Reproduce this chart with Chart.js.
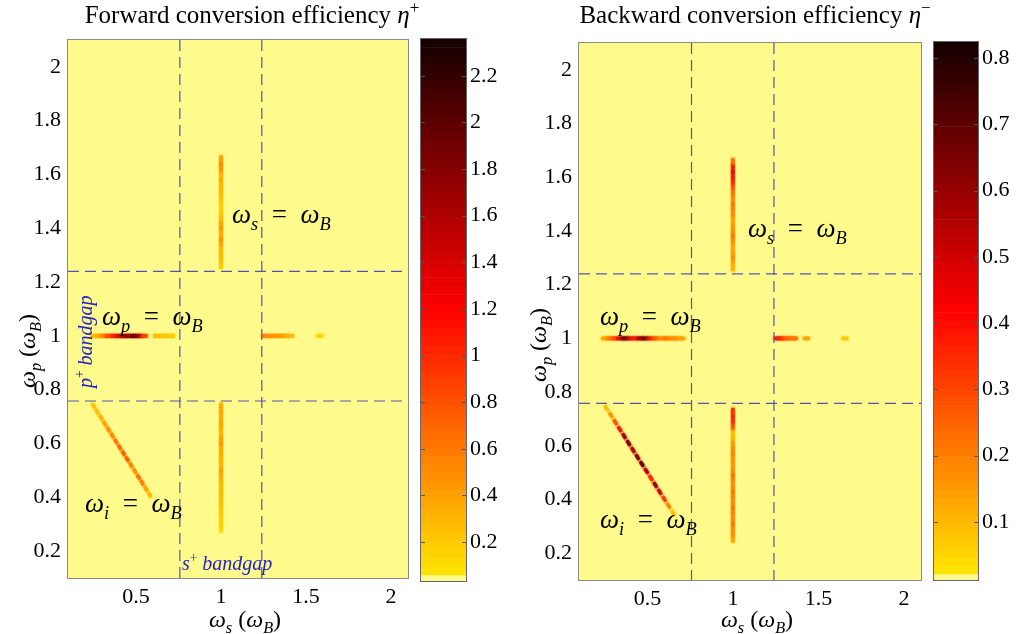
<!DOCTYPE html>
<html>
<head>
<meta charset="utf-8">
<script src="https://cdn.jsdelivr.net/npm/chart.js@4.4.1/dist/chart.umd.min.js"></script>
<style>
  html, body { margin: 0; padding: 0; background: #fff; }
  body { width: 1016px; height: 634px; position: relative; overflow: hidden; }
  canvas { position: absolute; top: 0; }
</style>
</head>
<body>
<canvas id="fwdPanel" width="420" height="634" style="left:0px"></canvas>
<canvas id="fwdBar" width="110" height="634" style="left:400px"></canvas>
<canvas id="bwdPanel" width="432" height="634" style="left:500px"></canvas>
<canvas id="bwdBar" width="102" height="634" style="left:914px"></canvas>
<script>
// ---- axes ----
const omegaMin = 0.1, omegaMax = 2.1;
const xTickVals = [0.5, 1, 1.5, 2];
const yTickVals = [0.2, 0.4, 0.6, 0.8, 1, 1.2, 1.4, 1.6, 1.8, 2];
const bandgapEdges = [0.758, 1.24];

// ---- colour scales ----
const fwdRange = [0.033, 2.358];
const fwdBarTicks = [0.2, 0.4, 0.6, 0.8, 1, 1.2, 1.4, 1.6, 1.8, 2, 2.2];
const bwdRange = [0.0125, 0.824];
const bwdBarTicks = [0.1, 0.2, 0.3, 0.4, 0.5, 0.6, 0.7, 0.8];

// ---- forward efficiency η+ ----
// streak along ωp = ωB
const fwdRowP = 1.0;
const fwdRowS = [0.25, 0.28, 0.31, 0.34, 0.37, 0.40, 0.43, 0.46, 0.49, 0.52, 0.55, 0.62, 0.65, 0.69, 0.71,
                 1.26, 1.29, 1.32, 1.35, 1.38, 1.41, 1.58];
const fwdRowV = [0.30, 0.40, 0.70, 1.00, 1.20, 1.60, 1.90, 2.00, 2.30, 1.80, 0.90, 0.30, 0.25, 0.25, 0.20,
                 0.60, 0.55, 0.50, 0.50, 0.40, 0.30, 0.15];
// streaks along ωs = ωB
const fwdColS = 1.0;
const fwdUpperP = [1.26, 1.28, 1.30, 1.32, 1.34, 1.36, 1.38, 1.40, 1.42, 1.44, 1.46, 1.48, 1.50, 1.52, 1.54, 1.56, 1.58, 1.60, 1.62, 1.64, 1.66];
const fwdUpperV = [0.20, 0.30, 0.35, 0.30, 0.45, 0.55, 0.40, 0.50, 0.45, 0.30, 0.25, 0.20, 0.25, 0.30, 0.35, 0.30, 0.40, 0.35, 0.55, 0.60, 0.45];
const fwdLowerP = [0.28, 0.30, 0.32, 0.34, 0.36, 0.38, 0.40, 0.42, 0.44, 0.46, 0.48, 0.50, 0.52, 0.54, 0.56, 0.58, 0.60, 0.62, 0.64, 0.66, 0.68, 0.70, 0.72, 0.74];
const fwdLowerV = [0.15, 0.20, 0.20, 0.25, 0.25, 0.30, 0.30, 0.35, 0.30, 0.35, 0.40, 0.45, 0.35, 0.35, 0.40, 0.40, 0.50, 0.45, 0.35, 0.40, 0.45, 0.40, 0.45, 0.40];
// streak along ωi = ωB
const fwdDiagS = [0.250, 0.272, 0.294, 0.316, 0.338, 0.360, 0.382, 0.404, 0.426, 0.448, 0.470, 0.492, 0.514, 0.536, 0.558, 0.580];
const fwdDiagP = [0.740, 0.718, 0.696, 0.674, 0.652, 0.630, 0.608, 0.586, 0.564, 0.542, 0.520, 0.498, 0.476, 0.454, 0.432, 0.410];
const fwdDiagV = [0.25, 0.30, 0.35, 0.45, 0.55, 0.60, 0.70, 0.75, 0.80, 0.80, 0.60, 0.50, 0.70, 0.65, 0.45, 0.30];

// ---- backward efficiency η- ----
const bwdRowP = 1.0;
const bwdRowS = [0.25, 0.28, 0.31, 0.34, 0.37, 0.40, 0.43, 0.46, 0.49, 0.52, 0.55, 0.58, 0.61, 0.64, 0.67, 0.70,
                 1.26, 1.285, 1.31, 1.335, 1.36, 1.43, 1.655];
const bwdRowV = [0.15, 0.25, 0.35, 0.55, 0.80, 0.50, 0.45, 0.70, 0.75, 0.40, 0.30, 0.20, 0.25, 0.20, 0.20, 0.15,
                 0.45, 0.40, 0.30, 0.28, 0.25, 0.15, 0.08];
const bwdColS = 1.0;
const bwdUpperP = [1.26, 1.28, 1.30, 1.32, 1.34, 1.36, 1.38, 1.40, 1.42, 1.44, 1.46, 1.48, 1.50, 1.52, 1.54, 1.56, 1.58, 1.60, 1.62, 1.64, 1.66];
const bwdUpperV = [0.12, 0.15, 0.20, 0.18, 0.15, 0.20, 0.25, 0.20, 0.18, 0.15, 0.20, 0.22, 0.25, 0.20, 0.25, 0.30, 0.40, 0.45, 0.50, 0.45, 0.25];
const bwdLowerP = [0.25, 0.27, 0.29, 0.31, 0.33, 0.35, 0.37, 0.39, 0.41, 0.43, 0.45, 0.47, 0.49, 0.51, 0.53, 0.55, 0.57, 0.59, 0.61, 0.63, 0.65, 0.67, 0.69, 0.71, 0.73];
const bwdLowerV = [0.15, 0.20, 0.20, 0.25, 0.20, 0.22, 0.25, 0.20, 0.22, 0.25, 0.20, 0.22, 0.25, 0.20, 0.18, 0.20, 0.22, 0.20, 0.18, 0.12, 0.10, 0.30, 0.40, 0.42, 0.38];
const bwdDiagS = [0.260, 0.286, 0.312, 0.338, 0.364, 0.390, 0.416, 0.442, 0.468, 0.494, 0.520, 0.546, 0.572, 0.598, 0.624, 0.650];
const bwdDiagP = [0.740, 0.714, 0.688, 0.662, 0.636, 0.610, 0.584, 0.558, 0.532, 0.506, 0.480, 0.454, 0.428, 0.402, 0.376, 0.350];
const bwdDiagV = [0.10, 0.18, 0.30, 0.45, 0.65, 0.72, 0.60, 0.70, 0.75, 0.60, 0.40, 0.65, 0.55, 0.35, 0.20, 0.10];

// ---- styling ----
const SERIF = '"Liberation Serif", "Times New Roman", serif';
const PALE = 'rgb(255,250,140)';
const GUIDE = 'rgb(85,85,175)';

// reversed "hot" map: yellow -> red -> black
function heat(t, alpha) {
  t = Math.max(0, Math.min(1, t));
  const p = 0.03 + 0.69 * (1 - t);
  const r = Math.min(1, p / 0.375);
  const g = Math.max(0, Math.min(1, (p - 0.375) / 0.375));
  const a = alpha === undefined ? 1 : alpha;
  return `rgba(${Math.round(255 * r)},${Math.round(255 * g)},0,${a})`;
}

// one streak = a faint halo plus a core of short dashes, coloured by value
function streak(xs, ys, vs, range, rot, len, width) {
  const norm = v => (v - range[0]) / (range[1] - range[0]);
  const pts = xs.map((x, i) => ({ x: x, y: ys[i] }));
  const base = { soft: true, showLine: false, pointStyle: 'line', rotation: rot };
  return [
    Object.assign({}, base, {
      data: pts, pointRadius: len + 0.8, borderWidth: width + 2,
      borderColor: c => heat(norm(vs[c.dataIndex]) * 0.7, 0.25),
      backgroundColor: 'rgba(0,0,0,0)'
    }),
    Object.assign({}, base, {
      data: pts, pointRadius: len, borderWidth: width,
      borderColor: c => heat(norm(vs[c.dataIndex]), 0.95),
      backgroundColor: 'rgba(0,0,0,0)'
    })
  ];
}
const fill = (n, v) => new Array(n).fill(v);

function guide(x0, y0, x1, y1) {
  return {
    data: [{ x: x0, y: y0 }, { x: x1, y: y1 }],
    showLine: true, pointRadius: 0, borderWidth: 1.2,
    borderColor: GUIDE, borderDash: [11, 6], fill: false
  };
}

// text runs: [text, kind]  kind = 'i' italic, 'rm' upright, 'sub', 'sup'
function runFont(kind, size) {
  if (kind === 'sub') return `italic ${size * 0.68}px ${SERIF}`;
  if (kind === 'sup') return `${size * 0.68}px ${SERIF}`;
  if (kind === 'rm') return `${size}px ${SERIF}`;
  return `italic ${size}px ${SERIF}`;
}
function runWidth(ctx, runs, size) {
  let w = 0;
  for (const [txt, kind] of runs) {
    ctx.font = runFont(kind, size);
    w += ctx.measureText(txt).width;
  }
  return w;
}
function drawRuns(ctx, runs, x, y, size, color, angle, align) {
  ctx.save();
  ctx.translate(x, y);
  ctx.rotate(angle || 0);
  ctx.fillStyle = color;
  ctx.textBaseline = 'alphabetic';
  ctx.textAlign = 'left';
  let cx = align === 'center' ? -runWidth(ctx, runs, size) / 2 : 0;
  for (const [txt, kind] of runs) {
    ctx.font = runFont(kind, size);
    let dy = 0;
    if (kind === 'sub') dy = size * 0.26;
    if (kind === 'sup') dy = -size * 0.42;
    ctx.fillText(txt, cx, dy);
    cx += ctx.measureText(txt).width;
  }
  ctx.restore();
}

const eqS = [['ω', 'i'], ['s', 'sub'], ['  =  ', 'rm'], ['ω', 'i'], ['B', 'sub']];
const eqP = [['ω', 'i'], ['p', 'sub'], ['  =  ', 'rm'], ['ω', 'i'], ['B', 'sub']];
const eqI = [['ω', 'i'], ['i', 'sub'], ['  =  ', 'rm'], ['ω', 'i'], ['B', 'sub']];
const yTitle = [['ω', 'i'], ['p', 'sub'], [' (', 'rm'], ['ω', 'i'], ['B', 'sub'], [')', 'rm']];
const xTitle = [['ω', 'i'], ['s', 'sub'], [' (', 'rm'], ['ω', 'i'], ['B', 'sub'], [')', 'rm']];

const softStreaks = {
  id: 'softStreaks',
  beforeDatasetDraw(chart, args) {
    const ds = chart.data.datasets[args.index];
    chart.ctx.save();
    if (ds.soft) { chart.ctx.filter = 'blur(0.6px)'; chart.ctx.lineCap = 'round'; }
  },
  afterDatasetDraw(chart) { chart.ctx.restore(); }
};

function panelDecor(spec) {
  return {
    id: 'panelDecor',
    beforeDatasetsDraw(chart) {
      const a = chart.chartArea, ctx = chart.ctx;
      ctx.save();
      ctx.fillStyle = PALE;
      ctx.fillRect(a.left, a.top, a.right - a.left, a.bottom - a.top);
      ctx.restore();
    },
    afterDraw(chart) {
      const a = chart.chartArea, ctx = chart.ctx;
      const sx = chart.scales.x, sy = chart.scales.y;
      ctx.save();
      ctx.strokeStyle = '#8a8a8a';
      ctx.lineWidth = 1;
      ctx.strokeRect(a.left - 0.5, a.top - 0.5, a.right - a.left + 1, a.bottom - a.top + 1);
      ctx.restore();
      for (const l of spec.labels) {
        drawRuns(ctx, l.runs, sx.getPixelForValue(l.x), sy.getPixelForValue(l.y),
                 l.size, l.color || '#000', l.rot || 0, 'left');
      }
      drawRuns(ctx, spec.title, spec.titleX, 23, 25, '#000', 0, 'center');
      drawRuns(ctx, xTitle, spec.xTitleX, 627, 24, '#000', 0, 'center');
      drawRuns(ctx, yTitle, spec.yTitleX, spec.yTitleY, 24, '#000', -Math.PI / 2, 'center');
    }
  };
}

function makePanel(id, cfg) {
  return new Chart(document.getElementById(id), {
    type: 'scatter',
    data: { datasets: cfg.datasets },
    options: {
      responsive: false, animation: false, events: [],
      layout: { padding: { top: cfg.padTop, right: cfg.padRight, left: 0, bottom: 0 } },
      plugins: { legend: { display: false }, tooltip: { enabled: false } },
      scales: {
        x: {
          type: 'linear', min: omegaMin, max: omegaMax,
          grid: { display: false, drawTicks: false }, border: { display: false },
          ticks: { font: { family: SERIF, size: 22 }, color: '#000', padding: 6,
                   maxRotation: 0, autoSkip: false, callback: v => String(v) },
          afterBuildTicks: s => { s.ticks = xTickVals.map(v => ({ value: v })); },
          afterFit: s => { s.height = cfg.xAxisH; }
        },
        y: {
          type: 'linear', min: omegaMin, max: omegaMax,
          grid: { display: false, drawTicks: false }, border: { display: false },
          ticks: { font: { family: SERIF, size: 22 }, color: '#000', padding: 7,
                   autoSkip: false, callback: v => String(v) },
          afterBuildTicks: s => { s.ticks = yTickVals.map(v => ({ value: v })); },
          afterFit: s => { s.width = cfg.yAxisW; }
        }
      }
    },
    plugins: [softStreaks, panelDecor(cfg)]
  });
}

function guides() {
  const [a, b] = bandgapEdges;
  return [
    guide(a, omegaMax, a, omegaMin), guide(b, omegaMax, b, omegaMin),
    guide(omegaMin, a, omegaMax, a), guide(omegaMin, b, omegaMax, b)
  ];
}

makePanel('fwdPanel', {
  padTop: 40, padRight: 12, xAxisH: 56, yAxisW: 68,
  title: [['Forward conversion efficiency ', 'rm'], ['η', 'i'], ['+', 'sup']],
  titleX: 252, xTitleX: 245, yTitleX: 35, yTitleY: 351,
  labels: [
    { runs: eqS, x: 1.065, y: 1.42, size: 27 },
    { runs: eqP, x: 0.30, y: 1.04, size: 27 },
    { runs: eqI, x: 0.20, y: 0.345, size: 27 },
    { runs: [['p', 'i'], ['+', 'sup'], [' bandgap', 'i']], x: 0.241, y: 0.806, size: 20, color: '#2323c8', rot: -Math.PI / 2 },
    { runs: [['s', 'i'], ['+', 'sup'], [' bandgap', 'i']], x: 0.77, y: 0.13, size: 20, color: '#2323c8' }
  ],
  datasets: [
    ...guides(),
    ...streak(fwdRowS, fill(fwdRowS.length, fwdRowP), fwdRowV, fwdRange, 0, 1.5, 4.4),
    ...streak(fill(fwdUpperP.length, fwdColS), fwdUpperP, fwdUpperV, fwdRange, 90, 1.3, 4),
    ...streak(fill(fwdLowerP.length, fwdColS), fwdLowerP, fwdLowerV, fwdRange, 90, 1.3, 4),
    ...streak(fwdDiagS, fwdDiagP, fwdDiagV, fwdRange, 58, 1.4, 3.8)
  ]
});

makePanel('bwdPanel', {
  padTop: 43, padRight: 11, xAxisH: 54, yAxisW: 79,
  title: [['Backward conversion efficiency ', 'rm'], ['η', 'i'], ['−', 'sup']],
  titleX: 255, xTitleX: 257, yTitleX: 46, yTitleY: 345,
  labels: [
    { runs: eqS, x: 1.088, y: 1.378, size: 27 },
    { runs: eqP, x: 0.223, y: 1.05, size: 27 },
    { runs: eqI, x: 0.223, y: 0.294, size: 27 }
  ],
  datasets: [
    ...guides(),
    ...streak(bwdRowS, fill(bwdRowS.length, bwdRowP), bwdRowV, bwdRange, 0, 1.5, 4.4),
    ...streak(fill(bwdUpperP.length, bwdColS), bwdUpperP, bwdUpperV, bwdRange, 90, 1.3, 4),
    ...streak(fill(bwdLowerP.length, bwdColS), bwdLowerP, bwdLowerV, bwdRange, 90, 1.3, 4),
    ...streak(bwdDiagS, bwdDiagP, bwdDiagV, bwdRange, 58, 1.6, 3.8)
  ]
});

// ---- colour bars ----
const colorbarFrame = {
  id: 'colorbarFrame',
  afterDraw(chart) {
    const a = chart.chartArea, ctx = chart.ctx, sy = chart.scales.y;
    ctx.save();
    ctx.strokeStyle = '#555';
    ctx.lineWidth = 1;
    for (const t of sy.ticks) {
      const y = Math.round(sy.getPixelForValue(t.value)) + 0.5;
      ctx.beginPath();
      ctx.moveTo(a.left, y); ctx.lineTo(a.left + 4, y);
      ctx.moveTo(a.right, y); ctx.lineTo(a.right - 4, y);
      ctx.stroke();
    }
    ctx.strokeStyle = '#666';
    ctx.strokeRect(a.left - 0.5, a.top - 0.5, a.right - a.left + 1, a.bottom - a.top + 1);
    ctx.restore();
  }
};

function makeColorbar(id, range, ticks, pad, axisW) {
  const [lo, hi] = range;
  const floor = lo + (hi - lo) * 0.01;
  const levels = 63;
  const datasets = [{ data: [[lo, floor]], backgroundColor: PALE }];
  for (let k = 0; k < levels; k++) {
    const a = floor + (hi - floor) * k / levels;
    const b = floor + (hi - floor) * (k + 1) / levels;
    datasets.push({ data: [[a, b]], backgroundColor: heat(((a + b) / 2 - lo) / (hi - lo)) });
  }
  return new Chart(document.getElementById(id), {
    type: 'bar',
    data: { labels: [''], datasets: datasets },
    options: {
      responsive: false, animation: false, events: [],
      datasets: { bar: { grouped: false, barPercentage: 1, categoryPercentage: 1, borderWidth: 0 } },
      layout: { padding: pad },
      plugins: { legend: { display: false }, tooltip: { enabled: false } },
      scales: {
        x: { display: false },
        y: {
          position: 'right', min: lo, max: hi,
          grid: { display: false, drawTicks: false }, border: { display: false },
          ticks: { font: { family: SERIF, size: 22 }, color: '#000', padding: 4,
                   autoSkip: false, callback: v => String(v) },
          afterBuildTicks: s => { s.ticks = ticks.map(v => ({ value: v })); },
          afterFit: s => { s.width = axisW; }
        }
      }
    },
    plugins: [colorbarFrame]
  });
}

makeColorbar('fwdBar', fwdRange, fwdBarTicks, { left: 21, right: 0, top: 39, bottom: 53 }, 44);
makeColorbar('bwdBar', bwdRange, bwdBarTicks, { left: 20, right: 0, top: 42, bottom: 54 }, 38);
</script>
</body>
</html>
